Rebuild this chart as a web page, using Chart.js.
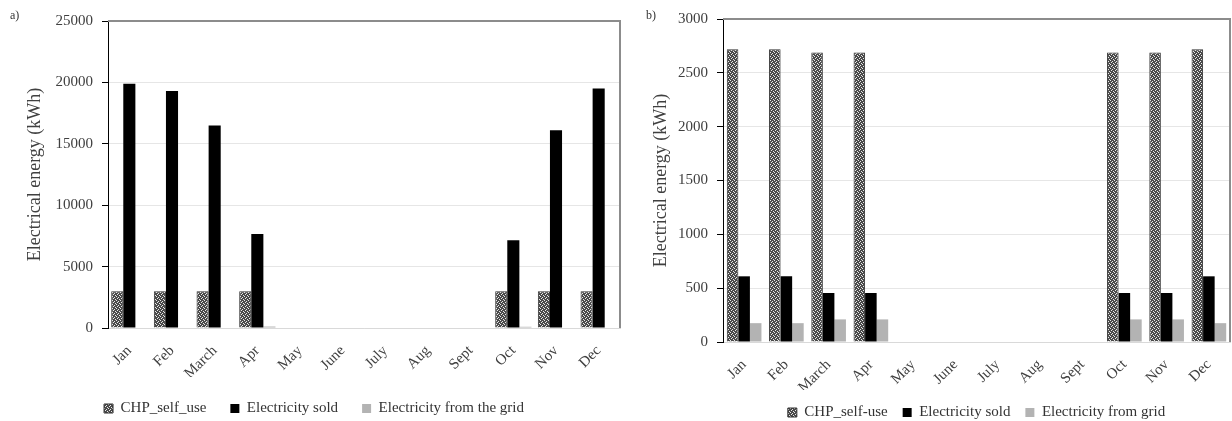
<!DOCTYPE html>
<html>
<head>
<meta charset="utf-8">
<script src="https://cdn.jsdelivr.net/npm/chart.js@4"></script>
<style>
  body { margin: 0; background: #fff; width: 1232px; height: 421px; position: relative; overflow: hidden; }
  .panel { position: absolute; top: 0; height: 421px; }
  .tag { position: absolute; top: 8px; font: 12px "Liberation Serif", serif; color: #333; }
</style>
</head>
<body>
<div class="panel" style="left:0;width:622px"><canvas id="chartA"></canvas></div>
<div class="panel" style="left:622px;width:610px"><canvas id="chartB"></canvas></div>
<div class="tag" style="left:10px">a)</div>
<div class="tag" style="left:646px">b)</div>
<script>
const months = ["Jan", "Feb", "March", "Apr", "May", "June", "July", "Aug", "Sept", "Oct", "Nov", "Dec"];

// panel a
const chpA = [3000, 3000, 3000, 3000, 0, 0, 0, 0, 0, 3000, 3000, 3000];
const soldA = [19900, 19300, 16500, 7650, 0, 0, 0, 0, 0, 7150, 16100, 19500];
const gridA = [0, 0, 0, 120, 0, 0, 0, 0, 0, 100, 0, 0];
const ticksA = { max: 25000, step: 5000 };

// panel b
const chpB = [2720, 2720, 2690, 2690, 0, 0, 0, 0, 0, 2690, 2690, 2720];
const soldB = [610, 610, 455, 455, 0, 0, 0, 0, 0, 455, 455, 610];
const gridB = [175, 175, 210, 210, 0, 0, 0, 0, 0, 210, 210, 175];
const ticksB = { max: 3000, step: 500 };

const serif = '"Liberation Serif", "Times New Roman", serif';

function hatch() {
  const c = document.createElement("canvas");
  c.width = 4; c.height = 4;
  const x = c.getContext("2d");
  x.fillStyle = "#4a4a4a";
  x.fillRect(0, 0, 4, 4);
  x.fillStyle = "#e8e8e8";
  x.fillRect(0, 0, 1, 1);
  x.fillRect(2, 1, 1, 1);
  x.fillRect(1, 2, 1, 1);
  x.fillRect(3, 3, 1, 1);
  return x.createPattern(c, "repeat");
}

const frame = {
  id: "frame",
  afterDraw(chart) {
    const { ctx, chartArea: a } = chart;
    ctx.save();
    ctx.strokeStyle = "#8c8c8c";
    ctx.lineWidth = 2;
    ctx.beginPath();
    ctx.moveTo(a.left, a.top);
    ctx.lineTo(a.right, a.top);
    ctx.lineTo(a.right, a.bottom);
    ctx.stroke();
    ctx.restore();
  }
};

function build(id, names, chp, sold, grid, t, cfg) {
  return new Chart(document.getElementById(id), {
    type: "bar",
    data: {
      labels: months,
      datasets: [
        { label: names[0], data: chp, backgroundColor: hatch(), borderColor: "#333", borderWidth: 1 },
        { label: names[1], data: sold, backgroundColor: "#000" },
        { label: names[2], data: grid, backgroundColor: "#b3b3b3" }
      ]
    },
    options: {
      responsive: true,
      maintainAspectRatio: false,
      animation: false,
      layout: { padding: { left: cfg.padLeft, right: 2, top: cfg.top, bottom: cfg.bottom } },
      datasets: { bar: { categoryPercentage: cfg.cat, barPercentage: 1 } },
      plugins: {
        tooltip: { enabled: false },
        legend: {
          position: "bottom",
          fullSize: cfg.legendFull,
          labels: {
            font: { family: serif, size: 15 },
            color: "#333",
            boxWidth: 9,
            boxHeight: 9,
            padding: cfg.legendPad
          }
        }
      },
      scales: {
        x: {
          grid: { display: false },
          border: { color: "#d9d9d9" },
          ticks: { font: { family: serif, size: 15 }, color: "#404040", minRotation: 45, maxRotation: 45, padding: 6 },
          afterFit(s) { s.height = cfg.xHeight; }
        },
        y: {
          min: 0,
          max: t.max,
          ticks: {
            stepSize: t.step,
            font: { family: serif, size: 15 },
            color: "#404040",
            padding: 9,
            callback: (v) => String(v)
          },
          grid: { color: "#e6e6e6", tickColor: "#000", tickLength: 6 },
          border: { color: "#000", width: 1 },
          title: {
            display: true,
            text: "Electrical energy (kWh)",
            font: { family: serif, size: 18 },
            color: "#404040",
            padding: { top: cfg.titlePad, bottom: 0 }
          },
          afterFit(s) { s.width = cfg.yWidth; }
        }
      }
    },
    plugins: [frame]
  });
}

build("chartA", ["CHP_self_use", "Electricity sold", "Electricity from the grid"], chpA, soldA, gridA, ticksA,
  { padLeft: 8, top: 21, bottom: -5, cat: 0.85, legendPad: 24, legendFull: true, xHeight: 49, yWidth: 100, titlePad: 16 });
build("chartB", ["CHP_self-use", "Electricity sold", "Electricity from grid"], chpB, soldB, gridB, ticksB,
  { padLeft: 6, top: 19, bottom: -9, cat: 0.82, legendPad: 15, legendFull: false, xHeight: 48, yWidth: 95, titlePad: 22 });
</script>
</body>
</html>
